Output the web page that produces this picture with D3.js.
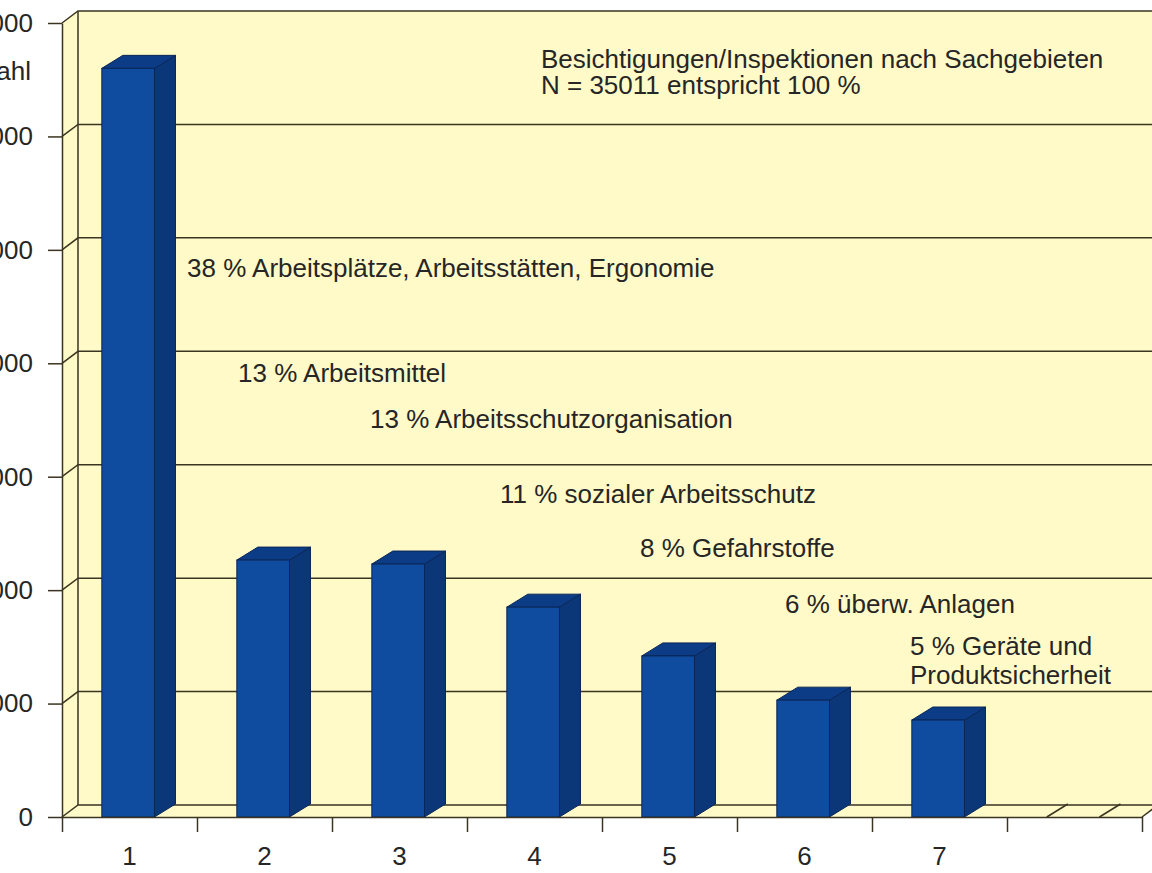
<!DOCTYPE html>
<html>
<head>
<meta charset="utf-8">
<script src="https://d3js.org/d3.v7.min.js"></script>
<style>
    body { margin: 0; background: #fff; }
    text { font-family: "Liberation Sans", Arial, sans-serif; fill: #262626; }
</style>
</head>
<body>
<script>
    // chart data
    var categories = ["1", "2", "3", "4", "5", "6", "7", "8"];
    var categoryLabels = ["1", "2", "3", "4", "5", "6", "7", ""];
    var values = [13200, 4530, 4460, 3700, 2840, 2060, 1710, 0];
    var yTicks = [0, 2000, 4000, 6000, 8000, 10000, 12000, 14000];
    var yTitle = "Anzahl";
    var titleLines = ["Besichtigungen/Inspektionen nach Sachgebieten", "N = 35011 entspricht 100 %"];
    var shareLabels = [
        "38 % Arbeitsplätze, Arbeitsstätten, Ergonomie",
        "13 % Arbeitsmittel",
        "13 % Arbeitsschutzorganisation",
        "11 % sozialer Arbeitsschutz",
        "8 % Gefahrstoffe",
        "6 % überw. Anlagen",
        "5 % Geräte und",
        "Produktsicherheit"
    ];
</script>
<script>
    var outerWidth = 1152, outerHeight = 873;
    var x0 = 62, x1 = 1142, yBottom = 817, yTop = 23;
    var wallDx = 16, wallDy = 12, barDx = 21, barDy = 13;
    var wallFill = "#fffac8", lineColor = "#3a3420";

    var svg = d3.select("body").append("svg")
        .attr("width", outerWidth).attr("height", outerHeight);

    var x = d3.scaleBand().domain(categories).range([x0, x1]);
    var xEdges = d3.scaleLinear().domain([0, categories.length]).range([x0, x1]);
    var y = d3.scaleLinear().domain([0, 14000]).range([yBottom, yTop]);

    function poly(pts) { return "M" + pts.map(function (p) { return p.join(","); }).join("L") + "Z"; }

    // walls and floor
    var walls = svg.append("g");
    walls.append("path")
        .attr("d", poly([[x0 + wallDx, yTop - wallDy], [x1 + wallDx, yTop - wallDy], [x1 + wallDx, yBottom - wallDy], [x0 + wallDx, yBottom - wallDy]]))
        .attr("fill", wallFill);
    walls.append("path")
        .attr("d", poly([[x0, yTop], [x0 + wallDx, yTop - wallDy], [x0 + wallDx, yBottom - wallDy], [x0, yBottom]]))
        .attr("fill", wallFill);
    walls.append("path")
        .attr("d", poly([[x0, yBottom], [x1, yBottom], [x1 + wallDx, yBottom - wallDy], [x0 + wallDx, yBottom - wallDy]]))
        .attr("fill", wallFill);

    // gridlines on side + back wall
    walls.selectAll("path.grid").data(yTicks).enter().append("path")
        .attr("class", "grid")
        .attr("fill", "none")
        .attr("stroke", lineColor)
        .attr("stroke-width", 1.5)
        .attr("d", function (t) {
            return "M" + x0 + "," + y(t) + "L" + (x0 + wallDx) + "," + (y(t) - wallDy) + "L" + (x1 + wallDx + 20) + "," + (y(t) - wallDy);
        });
    walls.append("line")
        .attr("x1", x0 + wallDx).attr("x2", x0 + wallDx)
        .attr("y1", yTop - wallDy).attr("y2", yBottom - wallDy)
        .attr("stroke", lineColor).attr("stroke-width", 1.5);
    walls.append("line")
        .attr("x1", x1).attr("y1", yBottom)
        .attr("x2", x1 + wallDx).attr("y2", yBottom - wallDy)
        .attr("stroke", lineColor).attr("stroke-width", 1.5);

    // bars
    var bw = x.bandwidth() * 0.39, boff = x.bandwidth() * 0.295;
    var bars = svg.append("g").selectAll("g.bar")
        .data(values.map(function (v, i) { return { cat: categories[i], value: v }; }))
        .enter().append("g").attr("class", "bar");

    bars.each(function (d) {
        var g = d3.select(this);
        var bx = x(d.cat) + boff, top = y(d.value);
        if (d.value === 0) {
            [bx, bx + bw].forEach(function (px) {
                g.append("line")
                    .attr("x1", px).attr("y1", yBottom)
                    .attr("x2", px + barDx).attr("y2", yBottom - barDy)
                    .attr("stroke", lineColor).attr("stroke-width", 1.5);
            });
            return;
        }
        g.append("path")
            .attr("d", poly([[bx + bw, top], [bx + bw + barDx, top - barDy], [bx + bw + barDx, yBottom - barDy], [bx + bw, yBottom]]))
            .attr("fill", "#0b3778").attr("stroke", "#0a2658").attr("stroke-width", 1);
        g.append("path")
            .attr("d", poly([[bx, top], [bx + barDx, top - barDy], [bx + bw + barDx, top - barDy], [bx + bw, top]]))
            .attr("fill", "#0c3c86").attr("stroke", "#0a2658").attr("stroke-width", 1);
        g.append("rect")
            .attr("x", bx).attr("y", top)
            .attr("width", bw).attr("height", yBottom - top)
            .attr("fill", "#0f4c9f").attr("stroke", "#0a2658").attr("stroke-width", 1);
    });

    // axes
    var yAxis = svg.append("g")
        .attr("transform", "translate(" + x0 + ",0)")
        .call(d3.axisLeft(y).tickValues(yTicks).tickSize(14).tickSizeOuter(0).tickPadding(15).tickFormat(d3.format("d")));
    yAxis.selectAll("line, path").attr("stroke", lineColor).attr("stroke-width", 1.5);
    yAxis.selectAll("text").style("font-size", "26px").attr("fill", "#262626")
        .style("font-family", "'Liberation Sans', Arial, sans-serif");

    var xTicks = svg.append("g")
        .attr("transform", "translate(0," + yBottom + ")")
        .call(d3.axisBottom(xEdges).tickValues(d3.range(0, categories.length + 1)).tickSize(15).tickSizeOuter(0).tickFormat(""));
    xTicks.selectAll("line, path").attr("stroke", lineColor).attr("stroke-width", 1.5);

    var xLabels = svg.append("g")
        .attr("transform", "translate(0," + yBottom + ")")
        .call(d3.axisBottom(x).tickSize(0).tickPadding(30).tickFormat(function (d, i) { return categoryLabels[i]; }));
    xLabels.select(".domain").remove();
    xLabels.selectAll("text").style("font-size", "26px").attr("fill", "#262626")
        .style("font-family", "'Liberation Sans', Arial, sans-serif");

    svg.append("text")
        .attr("x", 31).attr("y", 80)
        .attr("text-anchor", "end")
        .style("font-size", "26px")
        .text(yTitle);

    // title and share annotations
    var titlePos = [[541, 68], [541, 94]];
    svg.selectAll("text.title").data(titleLines).enter().append("text")
        .attr("class", "title")
        .attr("x", function (d, i) { return titlePos[i][0]; })
        .attr("y", function (d, i) { return titlePos[i][1]; })
        .style("font-size", "26px")
        .text(function (d) { return d; });

    var sharePos = [[187, 277], [238, 382], [370, 428], [500, 503], [640, 557], [785, 613], [910, 655], [910, 684]];
    svg.selectAll("text.share").data(shareLabels).enter().append("text")
        .attr("class", "share")
        .attr("x", function (d, i) { return sharePos[i][0]; })
        .attr("y", function (d, i) { return sharePos[i][1]; })
        .style("font-size", "26px")
        .text(function (d) { return d; });
</script>
</body>
</html>
